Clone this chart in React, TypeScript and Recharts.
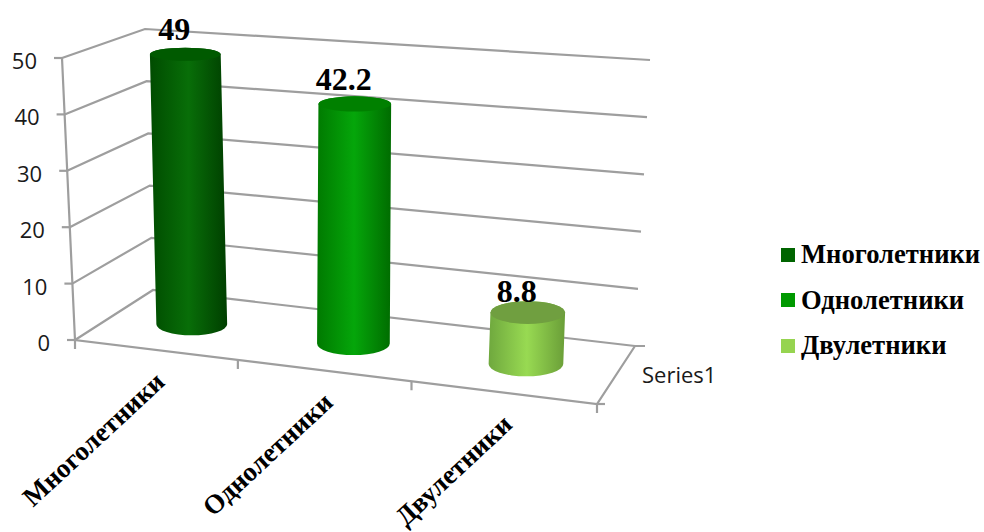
import { BarChart, Bar, XAxis, YAxis, CartesianGrid, Legend, LabelList } from "recharts";

const CATEGORIES = ["Многолетники", "Однолетники", "Двулетники"];
const VALUES = [49, 42.2, 8.8];
const VALUE_TICKS = [0, 10, 20, 30, 40, 50];
const DEPTH_LABEL = "Series1";

// cylinder shading per category, then the legend swatch
const BAR_EDGE = ["#004c00", "#007a00", "#6fa83e"];
const BAR_LIGHT = ["#086e08", "#05a60a", "#98da52"];
const BAR_DARK = ["#003f00", "#006c00", "#6a9e38"];
const BAR_CAP = ["#005a00", "#008000", "#709f40"];
const SWATCHES = ["#006400", "#009900", "#96d450"];

const rows = CATEGORIES.map((name, i) => ({ name, value: VALUES[i] }));

const WIDTH = 984;
const HEIGHT = 532;
// flat plot box handed to the scales, it is then bent into the 3D box below
const PLOT = { left: 100, top: 50, width: 500, height: 300 };
const GRID_COLOR = "#9e9e9e";
const SERIF = "'Liberation Serif', serif";
const SANS = "'Open Sans', sans-serif";

// corners of the box
const BOX = {
  floorFrontL: [75, 340],
  floorFrontR: [597, 404],
  floorBackL: [153, 290],
  floorBackR: [635, 346],
  topFrontL: [62, 58],
  topFrontR: [612, 95],
  topBackL: [145, 29],
  topBackR: [650, 60],
};

const lerp = (a: number, b: number, t: number) => a + (b - a) * t;
const lerp2 = (a: number[], b: number[], t: number) => [lerp(a[0], b[0], t), lerp(a[1], b[1], t)];
// columns get wider towards the viewer's right
const warp = (u: number) => (0.907 * u) / (1 - 0.093 * u);

function project(fx: number, fy: number, depth: number) {
  const t = warp((fx - PLOT.left) / PLOT.width);
  const v = (PLOT.top + PLOT.height - fy) / PLOT.height;
  const floor = lerp2(lerp2(BOX.floorFrontL, BOX.floorFrontR, t), lerp2(BOX.floorBackL, BOX.floorBackR, t), depth);
  const top = lerp2(lerp2(BOX.topFrontL, BOX.topFrontR, t), lerp2(BOX.topBackL, BOX.topBackR, t), depth);
  return lerp2(floor, top, v);
}

const pt = (p: number[]) => `${p[0].toFixed(1)} ${p[1].toFixed(1)}`;

function Cylinder(props: any) {
  const { x, y, width, height, index } = props;
  const cx = x + width / 2;
  const u = (cx - PLOT.left) / PLOT.width;
  const rx = (width / 2) * (0.97 + 0.08 * u);
  const ellipse = (fy: number) => {
    const front = project(cx, fy, 0);
    const back = project(cx, fy, 1);
    const c = project(cx, fy, 0.5);
    return { c: [c[0] + 1, c[1]], ry: (front[1] - back[1]) * 0.216 };
  };
  const top = ellipse(y);
  const base = ellipse(y + height);
  const body =
    `M ${top.c[0] - rx} ${top.c[1]} L ${base.c[0] - rx} ${base.c[1]} ` +
    `A ${rx} ${base.ry} 0 0 0 ${base.c[0] + rx} ${base.c[1]} ` +
    `L ${top.c[0] + rx} ${top.c[1]} ` +
    `A ${rx} ${top.ry} 0 0 0 ${top.c[0] - rx} ${top.c[1]} Z`;
  return (
    <g>
      <path d={body} fill={`url(#cyl-${index})`} />
      <ellipse cx={top.c[0]} cy={top.c[1]} rx={rx} ry={top.ry} fill={BAR_CAP[index]} />
    </g>
  );
}

function ValueLabel(props: any) {
  const { x, y, width, height, value } = props;
  const c = project(x + width / 2, y, 0.5);
  // short columns sit closer to the viewer, so their label hugs the cap
  const lift = height < 100 ? 11 : 14;
  return (
    <text
      x={c[0] - 10}
      y={c[1] - lift}
      textAnchor="middle"
      fontFamily={SERIF}
      fontWeight="bold"
      fontSize={32}
      fill="#000"
    >
      {value}
    </text>
  );
}

// wall gridline for one value, plus the floor outline on the zero line
function WallLine(props: any) {
  const { y1, index } = props;
  const left = PLOT.left;
  const right = PLOT.left + PLOT.width;
  const p0 = project(left, y1, 0);
  const p1 = project(left, y1, 1);
  const p2 = project(right, y1, 1);
  const isFloor = Math.abs(y1 - (PLOT.top + PLOT.height)) < 0.5;
  const common = { fill: "none", stroke: GRID_COLOR, strokeWidth: 2.2 };
  return (
    <g key={`wall-${index}`}>
      <path d={`M ${pt(p0)} L ${pt(p1)} L ${pt(p2)}`} {...common} />
      {isFloor && (
        <g>
          <path
            d={`M ${pt(project(left, PLOT.top, 0))} L ${pt(p0)} L ${pt(project(right, y1, 0))} L ${pt(p2)} L ${p2[0] + 10} ${p2[1]}`}
            {...common}
          />
          <path d={`M ${pt(project(right, y1, 0))} h 8`} {...common} />
          <text x={642} y={383} fontFamily={SANS} fontSize={22} fill="#1a1a1a">
            {DEPTH_LABEL}
          </text>
        </g>
      )}
    </g>
  );
}

function ValueTick(props: any) {
  const { y, payload } = props;
  const p = project(PLOT.left, y, 0);
  return (
    <g>
      <line x1={p[0] - 8} y1={p[1]} x2={p[0]} y2={p[1]} stroke={GRID_COLOR} strokeWidth={2.2} />
      <text x={p[0] - 25} y={p[1] + 11} textAnchor="end" fontFamily={SANS} fontSize={22} fill="#1a1a1a">
        {payload.value}
      </text>
    </g>
  );
}

function CategoryTick(props: any) {
  const { x, payload, index } = props;
  const band = PLOT.width / CATEGORIES.length;
  const floorY = PLOT.top + PLOT.height;
  const start = project(x - band / 2, floorY, 0);
  const end = project(x + band / 2, floorY, 0);
  const mid = project(x, floorY, 0);
  const ax = mid[0] + 11;
  const ay = mid[1] + 34;
  return (
    <g>
      <line x1={start[0]} y1={start[1]} x2={start[0]} y2={start[1] + 9} stroke={GRID_COLOR} strokeWidth={2.2} />
      {index === CATEGORIES.length - 1 && (
        <line x1={end[0]} y1={end[1]} x2={end[0]} y2={end[1] + 9} stroke={GRID_COLOR} strokeWidth={2.2} />
      )}
      <text
        x={ax}
        y={ay}
        textAnchor="end"
        transform={`rotate(-43 ${ax} ${ay})`}
        fontFamily={SERIF}
        fontWeight="bold"
        fontSize={27}
        fill="#000"
      >
        {payload.value}
      </text>
    </g>
  );
}

function LegendBlock() {
  return (
    <div>
      {CATEGORIES.map((name, i) => (
        <div key={name} style={{ display: "flex", alignItems: "center", height: 45.5 }}>
          <span style={{ width: 14, height: 14, background: SWATCHES[i], marginRight: 6, flex: "none" }} />
          <span style={{ fontFamily: SERIF, fontWeight: "bold", fontSize: 26.6, color: "#000", whiteSpace: "nowrap" }}>
            {name}
          </span>
        </div>
      ))}
    </div>
  );
}

export default function App() {
  return (
    <div style={{ position: "absolute", left: 0, top: 0, width: WIDTH, height: HEIGHT, background: "#fff", overflow: "hidden" }}>
      <BarChart
        width={WIDTH}
        height={HEIGHT}
        data={rows}
        margin={{
          top: PLOT.top,
          left: PLOT.left - 40,
          right: WIDTH - PLOT.left - PLOT.width,
          bottom: HEIGHT - PLOT.top - PLOT.height - 30,
        }}
      >
        <defs>
          {CATEGORIES.map((name, i) => (
            <linearGradient key={name} id={`cyl-${i}`} x1="0" y1="0" x2="1" y2="0">
              <stop offset="0%" stopColor={BAR_EDGE[i]} />
              <stop offset="50%" stopColor={BAR_LIGHT[i]} />
              <stop offset="100%" stopColor={BAR_DARK[i]} />
            </linearGradient>
          ))}
        </defs>
        <CartesianGrid vertical={false} horizontal={WallLine} />
        <XAxis dataKey="name" axisLine={false} tickLine={false} height={30} interval={0} tick={CategoryTick} />
        <YAxis
          domain={[0, 50]}
          ticks={VALUE_TICKS}
          width={40}
          axisLine={false}
          tickLine={false}
          tick={ValueTick}
        />
        <Legend
          layout="vertical"
          align="center"
          verticalAlign="middle"
          content={LegendBlock}
          wrapperStyle={{ left: 781, top: 232, width: 203 }}
        />
        <Bar dataKey="value" barSize={72} shape={Cylinder} isAnimationActive={false}>
          <LabelList dataKey="value" content={ValueLabel} />
        </Bar>
      </BarChart>
    </div>
  );
}
